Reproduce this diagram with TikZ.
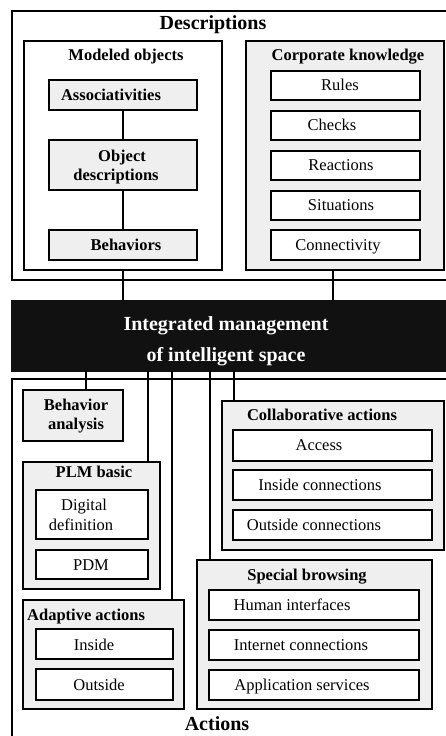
\documentclass[tikz,border=0pt]{standalone}
\usepackage{fontspec}
\setmainfont{Liberation Serif}
\definecolor{gfill}{RGB}{239,239,239}
\definecolor{blk}{RGB}{17,17,17}
\newcommand\fsn{\fontsize{16.5}{19}\selectfont}
\newcommand\fsb{\fontsize{20}{22}\selectfont\bfseries}
\newcommand\bx[6]{\node[#2, minimum width={(#5-#3)*1pt}, minimum height={(#6-#4)*1pt}] (#1) at ({(#3+#5)/2},{(#4+#6)/2}) {};}
\begin{document}
\begin{tikzpicture}[x=1pt,y=-1pt,
  box/.style={draw, line width=1.6pt, inner sep=0pt, outer sep=0pt, fill=white},
  gbox/.style={box, fill=gfill},
  obox/.style={draw, line width=1.9pt, inner sep=0pt, outer sep=0pt, fill=white},
  txt/.style={font=\fsn, inner sep=0pt, anchor=base},
  btxt/.style={font=\fsn\bfseries, inner sep=0pt, anchor=base},
  big/.style={font=\fsb, inner sep=0pt, anchor=base},
  conn/.style={line width=1.8pt}]
\useasboundingbox (0,0) rectangle (446,736);
\clip (0,0) rectangle (446,736);
% ---------- Descriptions ----------
\bx{desc}{obox}{12}{11}{470}{280}
\node[big] (tdesc) at (213,29.5) {Descriptions};
\bx{mod}{box}{24}{41}{222}{270}
\node[btxt] (tmod) at (126,60.5) {Modeled objects};
\bx{assoc}{gbox}{49}{80}{197}{110}
\node[btxt] (tassoc) at (111,100.5) {Associativities};
\bx{objd}{gbox}{49}{140}{197}{190}
\node[btxt] (tobjd1) at (122,161) {Object};
\node[btxt] (tobjd2) at (116,180) {descriptions};
\bx{behav}{gbox}{49}{230}{197}{260}
\node[btxt] (tbehav) at (126,250.5) {Behaviors};
\coordinate (cA) at (123,0);
\draw[conn] (assoc.south -| cA) -- (objd.north -| cA);
\draw[conn] (objd.south -| cA) -- (behav.north -| cA);
\bx{corp}{gbox}{246}{41}{444}{270}
\node[btxt] (tcorp) at (348,60.5) {Corporate knowledge};
\bx{rules}{box}{271}{71}{420}{100}
\node[txt] (trules) at (340,90.5) {Rules};
\bx{checks}{box}{271}{111}{420}{140}
\node[txt] (tchecks) at (332,130.5) {Checks};
\bx{react}{box}{271}{151}{420}{180}
\node[txt] (treact) at (341,170.5) {Reactions};
\bx{situ}{box}{271}{191}{420}{220}
\node[txt] (tsitu) at (341,210.5) {Situations};
\bx{connv}{box}{271}{230}{420}{260}
\node[txt] (tconnv) at (338,250.5) {Connectivity};
% ---------- Integrated management ----------
\bx{ims}{draw=blk, fill=blk, inner sep=0pt, outer sep=0pt}{11}{300}{470}{371}
\node[big, text=white] (tims1) at (226,330) {Integrated management};
\node[big, text=white] (tims2) at (226,361) {of intelligent space};
\coordinate (cM) at (123,0);
\coordinate (cC) at (333,0);
\draw[conn] (mod.south -| cM) -- (ims.north -| cM);
\draw[conn] (corp.south -| cC) -- (ims.north -| cC);
% ---------- Actions ----------
\bx{act}{obox}{12}{379}{470}{770}
\node[big] (tact) at (217,730) {Actions};
\bx{ba}{gbox}{23}{390}{123}{441}
\node[btxt] (tba1) at (76,410) {Behavior};
\node[btxt] (tba2) at (76,429) {analysis};
\bx{plm}{gbox}{23}{462}{160}{589}
\node[btxt] (tplm) at (94,477) {PLM basic};
\bx{dd}{box}{36}{490}{148}{539}
\node[txt] (tdd1) at (84,510) {Digital};
\node[txt] (tdd2) at (81,530) {definition};
\bx{pdm}{box}{36}{550}{148}{579}
\node[txt] (tpdm) at (91,570) {PDM};
\bx{ada}{gbox}{23}{600}{184}{709}
\node[btxt, anchor=base west] (tada) at (27,620) {Adaptive actions};
\bx{ins}{box}{36}{629}{173}{659}
\node[txt] (tins) at (94,650) {Inside};
\bx{outs}{box}{36}{669}{173}{700}
\node[txt] (touts) at (99,690) {Outside};
\bx{col}{gbox}{222}{401}{444}{550}
\node[btxt] (tcol) at (322,420) {Collaborative actions};
\bx{acc}{box}{233}{430}{432}{461}
\node[txt] (tacc) at (319,450) {Access};
\bx{inc}{box}{233}{470}{432}{500}
\node[txt] (tinc) at (320,490) {Inside connections};
\bx{outc}{box}{233}{510}{432}{540}
\node[txt] (toutc) at (314,530) {Outside connections};
\bx{sb}{gbox}{197}{560}{432}{709}
\node[btxt] (tsb) at (307,580) {Special browsing};
\bx{hi}{box}{209}{590}{419}{620}
\node[txt] (thi) at (292,610) {Human interfaces};
\bx{ic}{box}{209}{630}{419}{660}
\node[txt] (tic) at (301,650) {Internet connections};
\bx{as}{box}{209}{670}{419}{700}
\node[txt] (tas) at (302,690) {Application services};
% connectors from the black box
\coordinate (c1) at (86,0);
\coordinate (c2) at (148,0);
\coordinate (c3) at (172,0);
\coordinate (c4) at (210,0);
\coordinate (c5) at (234,0);
\draw[conn] (ims.south -| c1) -- (ba.north -| c1);
\draw[conn] (ims.south -| c2) -- (plm.north -| c2);
\draw[conn] (ims.south -| c3) -- (ada.north -| c3);
\draw[conn] (ims.south -| c4) -- (sb.north -| c4);
\draw[conn] (ims.south -| c5) -- (col.north -| c5);
\end{tikzpicture}
\end{document}
